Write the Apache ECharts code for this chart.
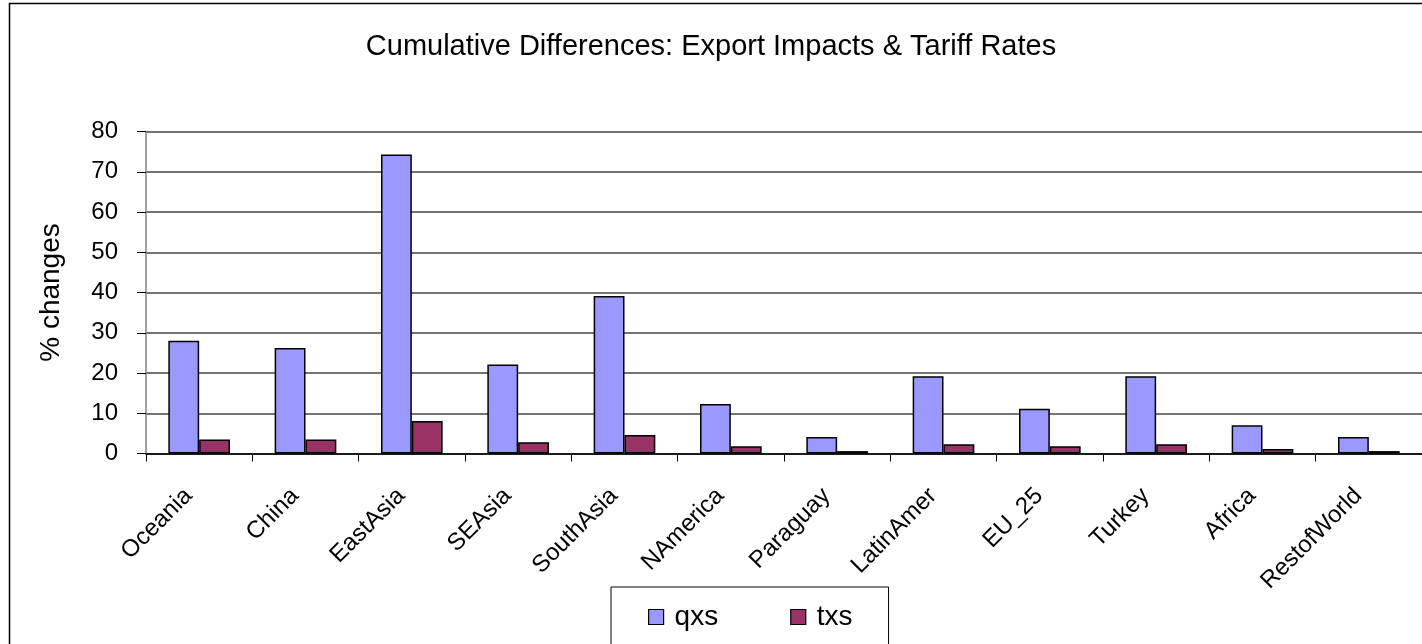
<!DOCTYPE html>
<html>
<head>
<meta charset="utf-8">
<script src="https://cdn.jsdelivr.net/npm/echarts@6/dist/echarts.min.js"></script>
<style>
html,body{margin:0;padding:0;background:#fff;}
#c{width:1422px;height:644px;}
</style>
</head>
<body>
<div id="c"></div>
<script>
var titleText = 'Cumulative Differences: Export Impacts & Tariff Rates';
var categories = ['Oceania','China','EastAsia','SEAsia','SouthAsia','NAmerica','Paraguay','LatinAmer','EU_25','Turkey','Africa','RestofWorld'];
var qxs = [28.0, 26.2, 74.3, 22.1, 39.1, 12.3, 4.1, 19.2, 11.1, 19.2, 7.0, 4.1];
var txs = [3.5, 3.5, 8.1, 2.8, 4.6, 1.8, 0.6, 2.3, 1.8, 2.3, 1.1, 0.6];
var yName = '% changes';

var FONT = '"Liberation Sans", Arial, sans-serif';
var chart = echarts.init(document.getElementById('c'), null, {renderer: 'canvas'});
chart.setOption({
  animation: false,
  backgroundColor: '#fff',
  title: {
    text: titleText, left: 'center', top: 27,
    textStyle: {fontFamily: FONT, fontSize: 29, fontWeight: 'normal', color: '#000'}
  },
  graphic: [{
    type: 'rect', left: 7, top: 1, silent: true,
    shape: {width: 1500, height: 700},
    style: {fill: 'none', stroke: '#000', lineWidth: 1.5}
  }],
  legend: {
    left: 611, top: 587,
    padding: [16, 36, 30, 37],
    borderColor: '#000', borderWidth: 1,
    backgroundColor: '#fff',
    itemGap: 72, itemWidth: 15, itemHeight: 15,
    icon: 'rect',
    textStyle: {fontFamily: FONT, fontSize: 28, color: '#000', padding: [0,0,0,6]},
    data: [
      {name: 'qxs', itemStyle: {color: '#9999FF', borderColor: '#000', borderWidth: 1.2}},
      {name: 'txs', itemStyle: {color: '#993366', borderColor: '#000', borderWidth: 1.2}}
    ]
  },
  grid: {left: 146, right: -6, top: 131.5, bottom: 190.5, containLabel: false},
  xAxis: {
    type: 'category', data: categories,
    axisLine: {lineStyle: {color: '#000', width: 1.5}},
    axisTick: {show: true, length: 8, lineStyle: {color: '#000'}},
    axisLabel: {rotate: 45, margin: 28, padding: [0, 15, 0, 0], fontFamily: FONT, fontSize: 24, color: '#000', interval: 0}
  },
  yAxis: {
    type: 'value', min: 0, max: 80, interval: 10,
    name: yName, nameLocation: 'middle', nameGap: 81,
    nameTextStyle: {fontFamily: FONT, fontSize: 28, color: '#000'},
    axisLine: {show: true, lineStyle: {color: '#808080', width: 1.5}},
    axisTick: {show: true, length: 9, inside: false, lineStyle: {color: '#000'}},
    axisLabel: {margin: 28, fontFamily: FONT, fontSize: 24, color: '#000'},
    splitLine: {show: true, lineStyle: {color: '#444', width: 1.5}}
  },
  series: [
    {name: 'qxs', type: 'bar', data: qxs, barGap: '0%', barCategoryGap: '42%',
     itemStyle: {color: '#9999FF', borderColor: '#000', borderWidth: 1.5}},
    {name: 'txs', type: 'bar', data: txs, barGap: '0%', barCategoryGap: '42%',
     itemStyle: {color: '#993366', borderColor: '#000', borderWidth: 1.5}}
  ]
});
</script>
</body>
</html>
